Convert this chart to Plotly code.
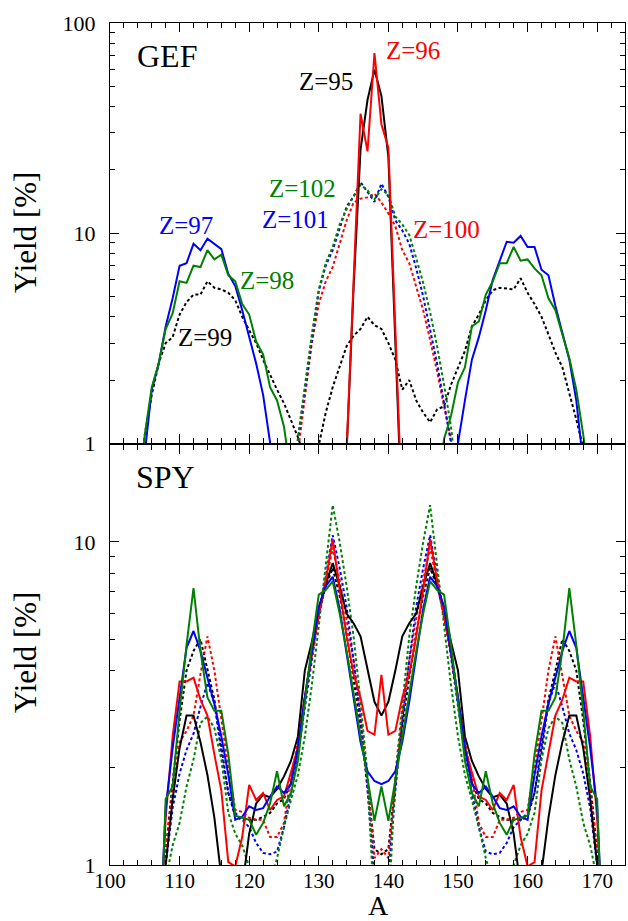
import plotly.graph_objects as go

# ---------------------------------------------------------------- GEF (top)
# mass numbers A and fragment yields [%] for each proton number Z
GEF_A95 = list(range(133, 143))
GEF_Z95 = [0.15, 1.0, 5.5, 25, 43, 60, 45, 23, 3.0, 0.4]

GEF_A96 = list(range(133, 143))
GEF_Z96 = [0.15, 0.95, 6.0, 37, 24.5, 72, 33, 25.5, 3.5, 0.45]

GEF_A97_L = list(range(104, 125))
GEF_Z97_L = [0.3, 0.9, 1.8, 2.4, 3.6, 4.9, 7.0, 7.2, 8.9, 8.3, 9.4, 8.9, 8.4,
             6.4, 5.6, 4.3, 3.2, 2.4, 1.7, 1.05, 0.6]
GEF_A97_R = list(range(149, 170))
GEF_Z97_R = [0.5, 1.0, 1.6, 2.5, 3.2, 4.3, 6.0, 7.4, 9.1, 9.0, 9.7, 8.6, 8.6,
             6.7, 6.3, 4.5, 3.3, 2.5, 1.6, 0.75, 0.4]

GEF_A98_L = list(range(104, 127))
GEF_Z98_L = [0.5, 1.1, 1.85, 2.4, 3.5, 4.15, 5.9, 5.8, 7.0, 6.9, 8.3, 7.5, 7.9,
             6.3, 5.9, 4.6, 4.1, 3.05, 2.65, 1.85, 1.6, 1.2, 0.7]
GEF_A98_R = list(range(147, 170))
GEF_Z98_R = [0.6, 1.05, 1.35, 1.95, 2.3, 3.6, 3.8, 5.1, 5.9, 7.2, 7.2, 8.6, 7.4,
             7.5, 6.8, 6.3, 4.9, 4.3, 3.3, 2.55, 1.8, 1.1, 0.6]

GEF_A99 = list(range(104, 170))
GEF_Z99 = [0.5, 1.1, 1.7, 2.4, 3.0, 3.2, 4.1, 4.7, 5.1, 5.1, 5.9, 5.5, 5.4,
           5.2, 4.8, 4.0, 3.45, 3.0, 2.5, 2.1, 1.8, 1.55, 1.3, 1.07, 0.85,
           0.8, 0.98, 1.4, 1.85, 2.3, 2.9, 3.25, 3.5, 4.0, 3.65, 3.5, 3.0,
           2.5, 1.8, 2.0, 1.6, 1.4, 1.26, 1.45, 1.5, 1.9, 2.3, 2.75, 3.6,
           4.1, 4.8, 5.35, 5.5, 5.45, 5.4, 6.1, 5.2, 4.6, 4.0, 3.3, 2.7,
           2.3, 1.75, 1.3, 0.95, 0.6]

GEF_A100 = list(range(126, 151))
GEF_Z100 = [0.5, 0.9, 1.7, 3.0, 4.6, 5.9, 6.9, 8.8, 11.5, 14.0, 14.6, 14.8,
            15.4, 14.0, 12.4, 10.8, 8.3, 7.2, 5.6, 4.3, 3.1, 2.2, 1.5, 1.05,
            0.55]
GEF_A101 = list(range(126, 151))
GEF_Z101 = [0.6, 1.05, 1.8, 3.2, 5.3, 7.0, 8.3, 10.5, 13.4, 14.9, 17.5, 15.7,
            14.1, 17.2, 14.9, 11.5, 10.3, 8.9, 6.8, 5.0, 3.5, 2.4, 1.55, 1.0,
            0.5]
GEF_A102 = list(range(126, 151))
GEF_Z102 = [0.6, 1.05, 1.85, 3.3, 5.4, 7.2, 8.6, 11.0, 13.0, 15.0, 17.0, 16.0,
            14.5, 16.2, 15.2, 12.0, 11.0, 9.8, 7.6, 5.8, 4.2, 2.9, 1.9, 1.2,
            0.6]

# ---------------------------------------------------------------- SPY (bottom)
SPY_A = list(range(107, 172))
SPY_Z95 = [0.4, 1.0, 1.6, 2.3, 2.9, 2.9, 2.4, 1.9, 1.4, 0.95, 0.6, 0.5, 0.85,
           1.25, 1.55, 1.65, 1.62, 1.72, 1.88, 2.1, 2.5, 4.0, 4.9, 6.2, 7.4,
           8.6, 7.3, 6.0, 5.6, 5.1, 4.0, 3.2, 2.9,
           3.2, 4.0, 5.1, 5.6, 6.0, 7.3, 8.6, 7.4, 6.2, 4.9, 4.0, 2.5, 2.1,
           1.88, 1.72, 1.62, 1.65, 1.55, 1.25, 0.85, 0.5, 0.6, 0.95, 1.4, 1.9,
           2.4, 2.9, 2.9, 2.3, 1.6, 1.0, 0.4]
SPY_Z96 = [0.5, 1.4, 2.5, 3.7, 3.7, 3.8, 3.25, 2.9, 2.2, 1.7, 1.02, 0.99,
           1.22, 1.77, 1.59, 1.67, 1.48, 1.59, 1.63, 1.92, 2.3, 3.3, 4.5, 6.0,
           7.6, 10.2, 7.1, 5.1, 3.9, 3.3, 2.6, 2.53, 3.88,
           2.53, 2.6, 3.3, 3.9, 5.1, 7.1, 10.2, 7.6, 6.0, 4.5, 3.3, 2.3, 1.92,
           1.63, 1.59, 1.48, 1.67, 1.59, 1.77, 1.22, 0.99, 1.02, 1.7, 2.2,
           2.9, 3.25, 3.8, 3.7, 3.7, 2.5, 1.4, 0.5]
SPY_Z97 = [0.5, 1.5, 2.3, 3.3, 4.7, 5.3, 4.6, 3.8, 3.15, 2.5, 1.9, 1.38,
           1.41, 1.52, 1.48, 1.5, 1.63, 1.75, 1.67, 1.78, 2.3, 3.3, 4.6, 6.3,
           7.3, 7.8, 6.2, 4.5, 3.2, 2.4, 1.95, 1.82, 1.78,
           1.82, 1.95, 2.4, 3.2, 4.5, 6.2, 7.8, 7.3, 6.3, 4.6, 3.3, 2.3, 1.78,
           1.67, 1.75, 1.63, 1.5, 1.48, 1.52, 1.41, 1.38, 1.9, 2.5, 3.15, 3.8,
           4.6, 5.3, 4.7, 3.3, 2.3, 1.5, 0.5]
SPY_Z98 = [0.4, 1.6, 1.75, 3.0, 4.8, 7.2, 4.6, 3.3, 3.0, 3.0, 2.2, 1.42, 1.4,
           1.38, 1.24, 1.35, 1.55, 1.95, 1.52, 1.67, 2.1, 3.2, 4.8, 6.87, 7.1,
           7.55, 6.0, 4.6, 3.4, 2.5, 1.83, 1.37, 1.75,
           1.37, 1.83, 2.5, 3.4, 4.6, 6.0, 7.55, 7.1, 6.87, 4.8, 3.2, 2.1,
           1.67, 1.52, 1.95, 1.55, 1.35, 1.24, 1.38, 1.4, 1.42, 2.2, 3.0, 3.0,
           3.3, 4.6, 7.2, 4.8, 3.0, 1.75, 1.6, 0.4]
SPY_Z99 = [0.5, 1.1, 1.8, 2.8, 4.0, 4.6, 5.0, 4.0, 3.25, 2.33, 1.67, 1.41,
           1.38, 1.38, 1.38, 1.41, 1.45, 1.55, 1.6, 1.8, 2.3, 3.3, 4.6, 6.0,
           7.3, 8.3, 6.8, 5.2, 3.8, 2.7, 1.8, 1.12, 1.08,
           1.12, 1.8, 2.7, 3.8, 5.2, 6.8, 8.3, 7.3, 6.0, 4.6, 3.3, 2.3, 1.8,
           1.6, 1.55, 1.45, 1.41, 1.38, 1.38, 1.38, 1.41, 1.67, 2.33, 3.25,
           4.0, 5.0, 4.6, 4.0, 2.8, 1.8, 1.1, 0.5]
SPY_Z100 = [0.5, 1.1, 1.7, 2.4, 2.6, 2.9, 3.9, 5.1, 4.0, 2.8, 2.0, 1.48, 1.46,
            1.4, 1.38, 1.38, 1.22, 1.22, 1.35, 1.88, 2.4, 3.3, 4.5, 5.8, 7.5,
            9.6, 7.6, 5.8, 4.3, 2.9, 1.8, 1.05, 1.12,
            1.05, 1.8, 2.9, 4.3, 5.8, 7.6, 9.6, 7.5, 5.8, 4.5, 3.3, 2.4, 1.88,
            1.35, 1.22, 1.22, 1.38, 1.38, 1.4, 1.46, 1.48, 2.0, 2.8, 4.0, 5.1,
            3.9, 2.9, 2.6, 2.4, 1.7, 1.1, 0.5]
SPY_Z101 = [0.5, 1.0, 1.5, 1.92, 2.27, 2.55, 3.09, 3.66, 3.17, 2.22, 1.67,
            1.45, 1.38, 1.31, 1.17, 1.09, 1.08, 1.1, 1.31, 1.67, 2.2, 3.1, 4.4,
            6.0, 7.8, 10.5, 8.3, 6.3, 4.3, 2.8, 1.7, 0.92, 0.8,
            0.92, 1.7, 2.8, 4.3, 6.3, 8.3, 10.5, 7.8, 6.0, 4.4, 3.1, 2.2, 1.67,
            1.31, 1.1, 1.08, 1.09, 1.17, 1.31, 1.38, 1.45, 1.67, 2.22, 3.17,
            3.66, 3.09, 2.55, 2.27, 1.92, 1.5, 1.0, 0.5]
SPY_Z102 = [0.4, 0.9, 1.15, 1.35, 1.75, 2.12, 2.75, 2.88, 2.65, 2.12, 1.45,
            1.25, 1.15, 1.0, 0.85, 0.8, 0.88, 1.05, 1.31, 1.59, 1.9, 2.5, 3.6,
            5.5, 8.5, 13.0, 10.0, 7.3, 5.1, 3.2, 1.9, 0.7, 0.55,
            0.7, 1.9, 3.2, 5.1, 7.3, 10.0, 13.0, 8.5, 5.5, 3.6, 2.5, 1.9, 1.59,
            1.31, 1.05, 0.88, 0.8, 0.85, 1.0, 1.15, 1.25, 1.45, 2.12, 2.65,
            2.88, 2.75, 2.12, 1.75, 1.35, 1.15, 0.9, 0.4]

# ---------------------------------------------------------------- styling
BLACK, RED, BLUE, GREEN = "#000000", "#ff0000", "#0000ff", "#008000"
SERIF = "Liberation Serif, Times New Roman, serif"
DOT = "3px,2.5px"

STYLE = {
    95: (BLACK, "solid"), 96: (RED, "solid"), 97: (BLUE, "solid"),
    98: (GREEN, "solid"), 99: (BLACK, DOT), 100: (RED, DOT),
    101: (BLUE, DOT), 102: (GREEN, DOT),
}

fig = go.Figure()


def add(a, y, z, xa, ya):
    color, dash = STYLE[z]
    fig.add_trace(go.Scatter(
        x=a, y=y, mode="lines", xaxis=xa, yaxis=ya, showlegend=False,
        line=dict(color=color, width=2, dash=dash), name=f"Z={z}",
    ))


# top panel
for z, a, y in [
    (99, GEF_A99, GEF_Z99), (100, GEF_A100, GEF_Z100),
    (101, GEF_A101, GEF_Z101), (102, GEF_A102, GEF_Z102),
    (97, GEF_A97_L, GEF_Z97_L), (97, GEF_A97_R, GEF_Z97_R),
    (98, GEF_A98_L, GEF_Z98_L), (98, GEF_A98_R, GEF_Z98_R),
    (95, GEF_A95, GEF_Z95), (96, GEF_A96, GEF_Z96),
]:
    add(a, y, z, "x", "y")

# bottom panel
for z, y in [(99, SPY_Z99), (100, SPY_Z100), (101, SPY_Z101),
             (102, SPY_Z102), (95, SPY_Z95), (96, SPY_Z96),
             (97, SPY_Z97), (98, SPY_Z98)]:
    add(SPY_A, y, z, "x2", "y2")

axis_common = dict(
    showgrid=False, zeroline=False, showline=True, linecolor="black",
    linewidth=1.3, ticks="inside", tickcolor="black", tickwidth=1.2,
    mirror="allticks", tickfont=dict(family=SERIF, size=22, color="black"),
)

x_common = dict(
    axis_common, range=[100, 174], tickmode="linear", tick0=100, dtick=10,
    ticklen=9, tickfont=dict(family=SERIF, size=21, color="black"),
    minor=dict(dtick=2, tick0=100, ticklen=5, ticks="inside",
               tickcolor="black", tickwidth=1.2),
)

minor_top = [v * 10 ** k for k in (0, 1) for v in range(2, 10)]
minor_bot = [v for v in range(2, 10)] + [20]

fig.update_layout(
    width=628, height=921,
    margin=dict(l=110, r=3, t=23, b=56),
    paper_bgcolor="white", plot_bgcolor="white",
    xaxis=dict(x_common, domain=[0, 1], anchor="y", showticklabels=False),
    xaxis2=dict(x_common, domain=[0, 1], anchor="y2", showticklabels=True,
                ticklabelstandoff=-3),
    yaxis=dict(axis_common, type="log", range=[0, 2], domain=[0.5008, 1],
               anchor="x", tickmode="array", tickvals=[1, 10, 100],
               ticktext=["1", "10", "100"], ticklen=9,
               ticklabelstandoff=9,
               minor=dict(tickmode="array", tickvals=minor_top, ticklen=5,
                          ticks="inside", tickcolor="black", tickwidth=1.2)),
    yaxis2=dict(axis_common, type="log", range=[0, 1.30103],
                domain=[0, 0.4992], anchor="x2", tickmode="array",
                tickvals=[1, 10], ticktext=["1", "10"], ticklen=9,
                ticklabelstandoff=9,
                minor=dict(tickmode="array", tickvals=minor_bot, ticklen=5,
                           ticks="inside", tickcolor="black", tickwidth=1.2)),
)

# axis titles and panel labels
def note(text, x, y, size, color=BLACK, xref="paper", yref="paper", angle=0):
    fig.add_annotation(text=text, x=x, y=y, xref=xref, yref=yref,
                       showarrow=False, textangle=angle, borderpad=0,
                       xanchor="center", yanchor="middle",
                       font=dict(family=SERIF, size=size, color=color))


PW, PH = 515, 842  # plotting area in pixels
note("Yield [%]", (25 - 110) / PW, (865 - 233) / PH, 31, angle=-90)
note("Yield [%]", (25 - 110) / PW, (865 - 653) / PH, 31, angle=-90)
note("A", (378 - 110) / PW, (865 - 905.5) / PH, 28)

note("GEF", 108.2, 1.843, 32, xref="x", yref="y")
note("SPY", 108.0, 1.200, 32, xref="x2", yref="y2")

for text, a, ly, color in [
    ("Z=95", 131.0, 1.724, BLACK), ("Z=96", 143.5, 1.871, RED),
    ("Z=102", 127.7, 1.214, GREEN), ("Z=101", 126.6, 1.067, BLUE),
    ("Z=100", 148.4, 1.019, RED), ("Z=97", 110.9, 1.038, BLUE),
    ("Z=98", 122.55, 0.776, GREEN), ("Z=99", 113.65, 0.505, BLACK),
]:
    note(text, a, ly, 25, color=color, xref="x", yref="y")

fig.write_html("out.html")
